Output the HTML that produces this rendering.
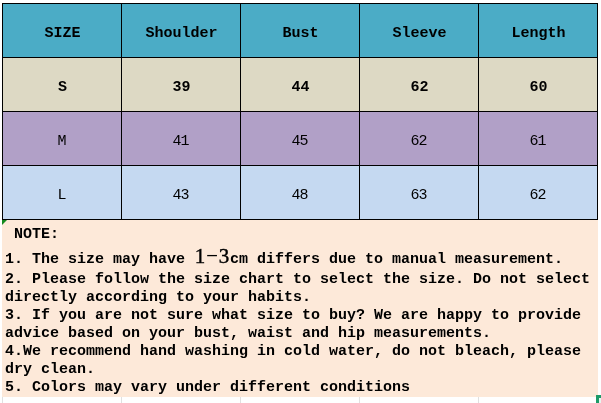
<!DOCTYPE html>
<html><head><meta charset="utf-8">
<style>
*{margin:0;padding:0;box-sizing:border-box}
html,body{width:601px;height:403px;background:#fff;overflow:hidden}
body{position:relative;font-family:"Liberation Mono","Noto Sans CJK SC",monospace;color:#000}
.c{position:absolute;text-align:center;white-space:pre}
.cell{position:absolute;height:54px}
.vl{position:absolute;width:1px;background:#000}
.hl{position:absolute;height:1px;background:#000}
.t{position:absolute;left:0;width:119px;text-align:center;font-size:15px;white-space:pre}
.b{font-weight:bold}
.n{letter-spacing:-1px;margin-left:-1px}
#note{position:absolute;left:2px;top:220px;width:596px;height:177px;background:#fde9d9}
.ln{position:absolute;left:3px;font-size:15px;font-weight:bold;white-space:pre;line-height:18px}
.big{font-weight:normal;font-size:21px;font-family:"Liberation Serif",serif;-webkit-text-stroke:0.4px #000}
.big span{display:inline-block;width:12px;text-align:center}
.big .hy{transform:translateY(-2px) scale(1.8,0.8);-webkit-text-stroke:0}
.gl{position:absolute;background:#e0e0e0}
</style></head><body>
<!-- faint gridlines below -->
<div class="gl" style="left:121px;top:397px;width:1px;height:6px"></div>
<div class="gl" style="left:240px;top:397px;width:1px;height:6px"></div>
<div class="gl" style="left:359px;top:397px;width:1px;height:6px"></div>
<div class="gl" style="left:478px;top:397px;width:1px;height:6px"></div>
<div class="gl" style="left:2px;top:397px;width:1px;height:6px"></div>

<!-- row backgrounds -->
<div class="cell" style="left:2px;top:3px;width:596px;background:#4bacc6"></div>
<div class="cell" style="left:2px;top:57px;width:596px;background:#ddd9c4"></div>
<div class="cell" style="left:2px;top:111px;width:596px;background:#b1a0c7"></div>
<div class="cell" style="left:2px;top:165px;width:596px;background:#c5d9f1"></div>

<!-- grid lines -->
<div class="hl" style="left:2px;top:3px;width:596px"></div>
<div class="hl" style="left:2px;top:57px;width:596px"></div>
<div class="hl" style="left:2px;top:111px;width:596px"></div>
<div class="hl" style="left:2px;top:165px;width:596px"></div>
<div class="hl" style="left:2px;top:219px;width:596px"></div>
<div class="vl" style="left:2px;top:3px;height:217px"></div>
<div class="vl" style="left:121px;top:3px;height:217px"></div>
<div class="vl" style="left:240px;top:3px;height:217px"></div>
<div class="vl" style="left:359px;top:3px;height:217px"></div>
<div class="vl" style="left:478px;top:3px;height:217px"></div>
<div class="vl" style="left:597px;top:3px;height:217px"></div>

<!-- header text -->
<div style="position:absolute;left:2px;top:25px;width:596px;height:20px">
<div class="t b" style="left:1px">SIZE</div>
<div class="t b" style="left:120px">Shoulder</div>
<div class="t b" style="left:239px">Bust</div>
<div class="t b" style="left:358px">Sleeve</div>
<div class="t b" style="left:477px">Length</div>
</div>
<div style="position:absolute;left:2px;top:79px;width:596px;height:20px">
<div class="t b" style="left:1px">S</div>
<div class="t b" style="left:120px">39</div>
<div class="t b" style="left:239px">44</div>
<div class="t b" style="left:358px">62</div>
<div class="t b" style="left:477px">60</div>
</div>
<div style="position:absolute;left:2px;top:133px;width:596px;height:20px">
<div class="t n" style="left:1px">M</div>
<div class="t n" style="left:120px">41</div>
<div class="t n" style="left:239px">45</div>
<div class="t n" style="left:358px">62</div>
<div class="t n" style="left:477px">61</div>
</div>
<div style="position:absolute;left:2px;top:187px;width:596px;height:20px">
<div class="t n" style="left:1px">L</div>
<div class="t n" style="left:120px">43</div>
<div class="t n" style="left:239px">48</div>
<div class="t n" style="left:358px">63</div>
<div class="t n" style="left:477px">62</div>
</div>

<!-- note -->
<div id="note">
<svg style="position:absolute;left:0;top:0" width="5" height="5"><polygon points="0,0 5,0 0,5" fill="#138a1e"/></svg>
<div class="ln" style="top:6px"> NOTE:</div>
<div class="ln" style="top:27px">1. The size may have <span class="big"><span>1</span><span class="hy">-</span><span>3</span></span>cm differs due to manual measurement.</div>
<div class="ln" style="top:51px">2. Please follow the size chart to select the size. Do not select</div>
<div class="ln" style="top:69px">directly according to your habits.</div>
<div class="ln" style="top:87px">3. If you are not sure what size to buy? We are happy to provide</div>
<div class="ln" style="top:105px">advice based on your bust, waist and hip measurements.</div>
<div class="ln" style="top:123px">4.We recommend hand washing in cold water, do not bleach, please</div>
<div class="ln" style="top:141px">dry clean.</div>
<div class="ln" style="top:159px">5. Colors may vary under different conditions</div>
</div>
<!-- selection corner -->
<div style="position:absolute;left:596px;top:395px;width:5px;height:8px;border-left:3px solid #1e9a68;border-top:3px solid #1e9a68;background:#e6f7f0"></div>
</body></html>
